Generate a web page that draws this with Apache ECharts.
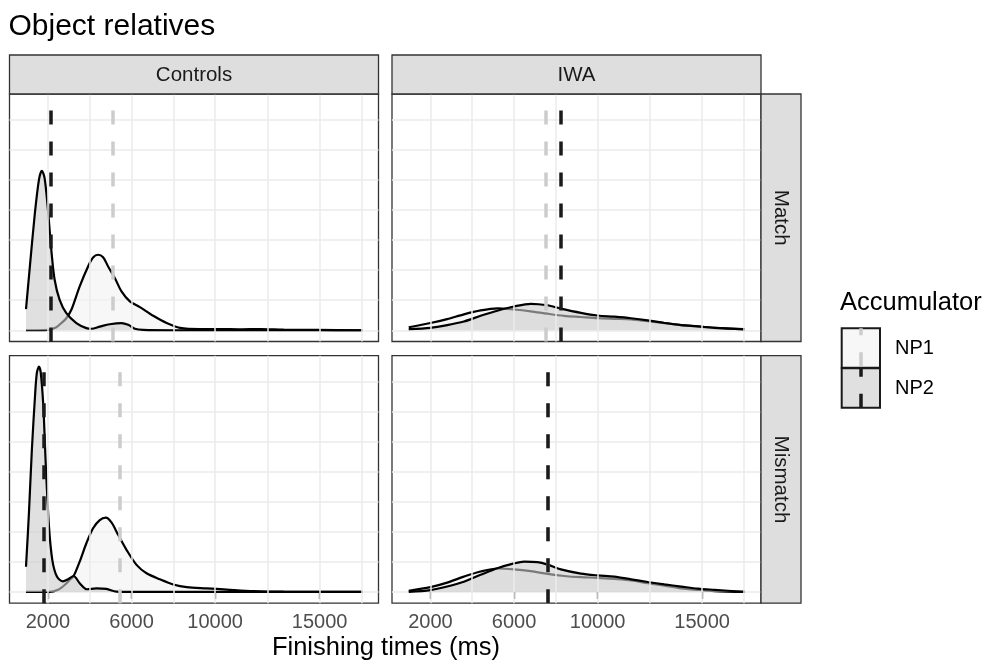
<!DOCTYPE html>
<html><head><meta charset="utf-8">
<script src="https://cdn.jsdelivr.net/npm/echarts@6/dist/echarts.min.js"></script>
<style>html,body{margin:0;padding:0;background:#fff}#c{width:985px;height:666px}</style>
</head><body><div id="c"></div>
<script>
// ---------- DATA ----------
const chartTitle = 'Object relatives';
const groups = ['Controls', 'IWA'];
const conditions = ['Match', 'Mismatch'];
const accumulators = ['NP1', 'NP2'];
const xAxisTitle = 'Finishing times (ms)';
const legendTitle = 'Accumulator';
const xTickValues = [2000, 6000, 10000, 15000];
const xMinorValues = [4000, 8000, 12500, 17000];
const xRange = [160, 17820];
const yRange = [-0.374, 7.855];
const yGridCount = 8; // horizontal grid lines every 1 unit (0..7)

// densities: [finishing time ms, density x1e-4]
const controlsMatchNP1 = [[950,0],[1500,0],[2080,0.02],[2400,0.1],[2640,0.24],[2880,0.40],[3120,0.68],[3520,1.46],[3920,2.12],[4160,2.42],[4400,2.51],[4640,2.43],[4880,2.12],[5200,1.74],[5520,1.29],[5920,0.96],[6400,0.77],[7040,0.48],[7680,0.24],[8320,0.08],[9280,0.04],[10240,0.04],[11200,0.03],[12160,0.04],[13280,0.02],[14880,0.01],[17050,0]];
const controlsMatchNP2 = [[950,0.70],[1120,2.01],[1360,3.79],[1570,5.01],[1710,5.30],[1840,5.06],[2000,4.01],[2160,2.68],[2320,1.68],[2560,1.01],[2880,0.57],[3360,0.24],[3840,0.07],[4080,0.05],[4480,0.12],[4960,0.20],[5520,0.24],[5840,0.18],[6160,0.05],[6560,0.01],[8000,0],[17050,0]];
const iwaMatchNP1 = [[960,0.10],[2000,0.24],[2800,0.37],[3600,0.53],[4400,0.66],[5200,0.73],[6000,0.69],[6800,0.63],[7600,0.55],[8400,0.48],[9200,0.44],[10000,0.40],[10800,0.38],[11600,0.36],[12400,0.30],[13200,0.24],[14000,0.17],[15600,0.08],[17050,0.04]];
const iwaMatchNP2 = [[960,0.04],[2000,0.08],[2800,0.17],[3600,0.29],[4400,0.48],[5200,0.65],[6000,0.79],[6800,0.88],[7600,0.83],[8240,0.72],[9200,0.58],[10000,0.49],[10800,0.45],[11600,0.40],[12400,0.33],[13200,0.24],[14000,0.17],[14800,0.13],[15600,0.08],[17050,0.03]];
const controlsMismatchNP1 = [[950,0],[2080,0],[2480,0.07],[2800,0.23],[3070,0.42],[3230,0.53],[3520,1.01],[3840,1.62],[4160,2.12],[4480,2.39],[4770,2.47],[5040,2.31],[5360,1.90],[5760,1.40],[6240,0.90],[6720,0.62],[7360,0.42],[8000,0.25],[8640,0.16],[9600,0.12],[10560,0.08],[11840,0.03],[13280,0.01],[17050,0]];
const controlsMismatchNP2 = [[950,0.84],[1090,2.62],[1230,4.72],[1380,6.50],[1470,7.29],[1570,7.49],[1660,7.27],[1780,6.16],[1900,4.17],[2050,2.17],[2210,1.06],[2430,0.51],[2720,0.35],[2960,0.42],[3230,0.53],[3520,0.29],[3870,0.09],[4320,0.12],[4800,0.10],[5280,0.01],[6080,0],[17050,0]];
const iwaMismatchNP1 = [[960,0.04],[2000,0.16],[2800,0.31],[3600,0.51],[4400,0.68],[5200,0.78],[6000,0.75],[6800,0.69],[7600,0.60],[8400,0.53],[9200,0.49],[10000,0.47],[10800,0.43],[11600,0.38],[12400,0.29],[13200,0.21],[14000,0.12],[14800,0.07],[15600,0.03],[17050,0]];
const iwaMismatchNP2 = [[960,0],[2000,0.06],[2800,0.18],[3600,0.34],[4400,0.57],[5200,0.79],[6000,0.95],[6480,1.01],[7120,0.99],[7600,0.91],[8240,0.75],[9200,0.61],[10000,0.55],[10800,0.51],[11600,0.42],[12400,0.33],[13200,0.25],[14000,0.18],[14800,0.11],[15600,0.07],[17050,0]];

// mean finishing times, panel order: Controls-Match, IWA-Match, Controls-Mismatch, IWA-Mismatch
const np1Means = [5100, 7520, 5430, 7630];
const np2Means = [2115, 8240, 1810, 7630];

// ---------- LAYOUT / STYLE ----------
const FONT = '"Liberation Sans", Arial, Helvetica, sans-serif';
const PW = 369, PH = 247.5;
const colLeft = [9.5, 392];
const rowTop = [94, 355.7];
const panelData = [
  [controlsMatchNP1, controlsMatchNP2],
  [iwaMatchNP1, iwaMatchNP2],
  [controlsMismatchNP1, controlsMismatchNP2],
  [iwaMismatchNP1, iwaMismatchNP2]
];
const fills = ['rgba(242,242,242,0.6)', 'rgba(204,204,204,0.6)'];
const meanColors = ['#cccccc', '#1a1a1a'];

const grids = [], xAxes = [], yAxes = [], series = [];
for (let i = 0; i < 4; i++) {
  const r = Math.floor(i / 2), c = i % 2;
  const bottom = r === 1;
  grids.push({left: colLeft[c], top: rowTop[r], width: PW, height: PH, show: true,
    backgroundColor: '#ffffff', borderColor: '#333333', borderWidth: 1.3, containLabel: false});
  xAxes.push({type: 'value', gridIndex: i, min: xRange[0], max: xRange[1],
    axisLine: {show: false}, splitLine: {show: false}, minorTick: {show: false}, minorSplitLine: {show: false},
    axisTick: {show: bottom, customValues: xTickValues, length: 7, lineStyle: {color: '#333333', width: 1.3}},
    axisLabel: {show: bottom, customValues: xTickValues, color: '#4d4d4d', fontSize: 20, fontFamily: FONT, margin: 9,
      formatter: v => String(v)}});
  yAxes.push({type: 'value', gridIndex: i, min: yRange[0], max: yRange[1], splitNumber: yGridCount, show: true,
    axisLine: {show: false}, axisTick: {show: false}, axisLabel: {show: false},
    splitLine: {show: true, showMinLine: false, showMaxLine: false, lineStyle: {color: '#ebebeb', width: 1.5}}});
  // vertical grid lines
  series.push({type: 'line', xAxisIndex: i, yAxisIndex: i, data: [], z: 1, silent: true,
    markLine: {silent: true, symbol: ['none', 'none'], symbolSize: 0, label: {show: false}, animation: false,
      lineStyle: {color: '#ebebeb', width: 1.5, type: 'solid'},
      emphasis: {disabled: true},
      data: [...xTickValues.map(v => ({xAxis: v})), ...xMinorValues.map(v => ({xAxis: v}))]}});
  // densities
  for (let k = 0; k < 2; k++) {
    series.push({type: 'line', name: accumulators[k], xAxisIndex: i, yAxisIndex: i,
      data: panelData[i][k], smooth: 0.3, showSymbol: false, symbol: 'none', z: 2 + k, silent: true,
      lineStyle: {color: '#000000', width: 2.2},
      areaStyle: {color: fills[k], opacity: 1}});
  }
  // means
  series.push({type: 'line', xAxisIndex: i, yAxisIndex: i, data: [], z: 5, silent: true,
    markLine: {silent: true, symbol: ['none', 'none'], symbolSize: 0, label: {show: false}, animation: false,
      emphasis: {disabled: true},
      lineStyle: {width: 3.5, type: [14, 17]},
      data: [
        {xAxis: np1Means[i], lineStyle: {color: meanColors[0], width: 3.5, type: [14, 17]}},
        {xAxis: np2Means[i], lineStyle: {color: meanColors[1], width: 3.5, type: [14, 17]}}
      ]}});
}

function txt(x, y, text, size, color, align, rot) {
  return {type: 'text', x: x, y: y, rotation: rot || 0, silent: true, z: 100,
    style: {text: text, x: 0, y: 0, fill: color, fontSize: size, fontFamily: FONT,
      align: align || 'center', verticalAlign: 'middle', textAlign: align || 'center', textVerticalAlign: 'middle'}};
}
const graphics = [];
graphics.push(txt(8.5, 27, chartTitle, 30, '#000000', 'left'));
for (let c = 0; c < 2; c++) {
  graphics.push({type: 'rect', silent: true, z: 90, shape: {x: colLeft[c], y: 55, width: PW, height: 39},
    style: {fill: '#dedede', stroke: '#333333', lineWidth: 1.3}});
  graphics.push(txt(colLeft[c] + PW / 2, 75, groups[c], 20.5, '#1a1a1a', 'center'));
}
for (let r = 0; r < 2; r++) {
  graphics.push({type: 'rect', silent: true, z: 90, shape: {x: colLeft[1] + PW, y: rowTop[r], width: 40, height: PH},
    style: {fill: '#dedede', stroke: '#333333', lineWidth: 1.3}});
  graphics.push(txt(colLeft[1] + PW + 20, rowTop[r] + PH / 2, conditions[r], 20.5, '#1a1a1a', 'center', -Math.PI / 2));
}
graphics.push(txt(386, 648, xAxisTitle, 25.5, '#000000', 'center'));
// legend
graphics.push(txt(840, 302.5, legendTitle, 25.5, '#000000', 'left'));
const keyTop = [328.3, 368.3];
const keyFill = ['#f7f7f7', '#e0e0e0'];
const dashOff = [7, 5.6];
for (let k = 0; k < 2; k++) {
  graphics.push({type: 'rect', silent: true, z: 90, shape: {x: 841.7, y: keyTop[k], width: 38.3, height: 39.4},
    style: {fill: keyFill[k], stroke: '#1a1a1a', lineWidth: 2}});
  graphics.push({type: 'line', silent: true, z: 91, shape: {x1: 861, y1: keyTop[k], x2: 861, y2: keyTop[k] + 39.4},
    style: {stroke: meanColors[k], lineWidth: 3.5, lineDash: [14, 17], lineDashOffset: dashOff[k]}});
  graphics.push(txt(895, keyTop[k] + 20, accumulators[k], 20, '#000000', 'left'));
}

const chart = echarts.init(document.getElementById('c'), null, {renderer: 'canvas'});
chart.setOption({
  animation: false,
  backgroundColor: '#ffffff',
  grid: grids, xAxis: xAxes, yAxis: yAxes, series: series,
  graphic: graphics
});
</script></body></html>
